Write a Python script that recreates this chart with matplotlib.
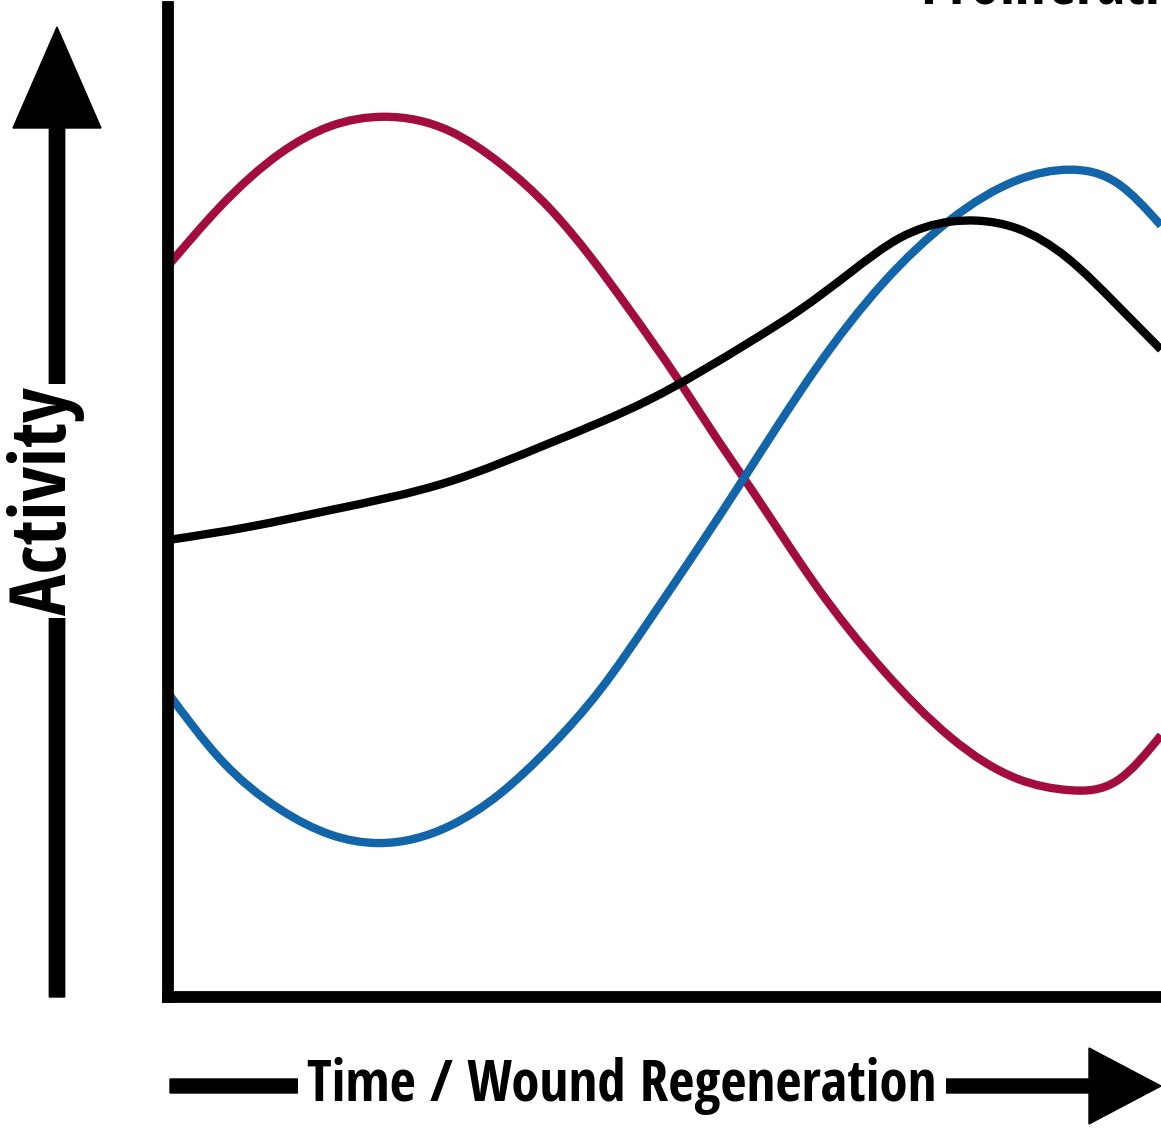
import matplotlib
matplotlib.use("Agg")
import matplotlib.pyplot as plt
import numpy as np
from matplotlib.path import Path
from matplotlib.patches import PathPatch, FancyArrow

# values (time 0..10, activity 0..~10)
time_red = [0, 0.52, 1.13, 1.63, 2.18, 2.84, 3.34, 3.85, 4.25, 4.65, 5.13,
            5.53, 5.86, 6.53, 7.20, 7.88, 8.55, 9.08, 9.56, 10]
red_vals = [7.60, 8.21, 8.77, 9.05, 9.15, 9.00, 8.67, 8.19, 7.70, 7.14, 6.43,
            5.80, 5.30, 4.27, 3.40, 2.70, 2.27, 2.15, 2.25, 2.72]

time_blue = [0, 0.52, 1.13, 1.63, 2.13, 2.84, 3.34, 3.85, 4.35, 4.85, 5.36,
             5.76, 6.53, 7.20, 7.88, 8.55, 9.08, 9.56, 10]
blue_vals = [3.16, 2.48, 1.95, 1.69, 1.60, 1.78, 2.11, 2.60, 3.19, 3.92, 4.70,
             5.33, 6.54, 7.42, 8.08, 8.49, 8.60, 8.46, 8.02]

time_black = [0, 0.83, 1.63, 2.84, 3.85, 4.85, 5.86, 6.36, 6.87, 7.37, 7.88,
              8.15, 8.55, 9.06, 9.56, 10]
black_vals = [4.75, 4.89, 5.06, 5.36, 5.76, 6.21, 6.81, 7.14, 7.53, 7.89, 8.06,
              8.07, 7.99, 7.68, 7.19, 6.73]

RED = "#a30c3e"
BLUE = "#1165a8"

plt.rcParams['font.family'] = ['Open Sans Condensed', 'PT Sans Narrow', 'DejaVu Sans']


def smooth_path(xs, ys):
    # natural cubic spline through the read points, as Bezier segments
    x = np.asarray(xs, float)
    y = np.asarray(ys, float)
    n = len(x)
    h = np.diff(x)
    A = np.zeros((n, n))
    r = np.zeros(n)
    A[0, 0] = A[-1, -1] = 1
    for i in range(1, n - 1):
        A[i, i - 1] = h[i - 1]
        A[i, i] = 2 * (h[i - 1] + h[i])
        A[i, i + 1] = h[i]
        r[i] = 6 * ((y[i + 1] - y[i]) / h[i] - (y[i] - y[i - 1]) / h[i - 1])
    M = np.linalg.solve(A, r)
    d = np.empty(n)
    d[:-1] = (y[1:] - y[:-1]) / h - h * (2 * M[:-1] + M[1:]) / 6
    d[-1] = (y[-1] - y[-2]) / h[-1] + h[-1] * (M[-2] + 2 * M[-1]) / 6
    verts = [(x[0], y[0])]
    codes = [Path.MOVETO]
    for i in range(n - 1):
        t = h[i] / 3.0
        verts += [(x[i] + t, y[i] + d[i] * t),
                  (x[i + 1] - t, y[i + 1] - d[i + 1] * t),
                  (x[i + 1], y[i + 1])]
        codes += [Path.CURVE4] * 3
    return Path(verts, codes)


fig = plt.figure(figsize=(11.61, 11.33), dpi=100)
W, H = 1161, 1133

ax = fig.add_axes([168 / W, (H - 997) / H, (W - 168) / W, (997 - 7) / H])
ax.set_xlim(0, 10)
ax.set_ylim(0, (997 - 7) / 96.2)

for xs, ys, c in [(time_red, red_vals, RED), (time_blue, blue_vals, BLUE),
                  (time_black, black_vals, "black")]:
    ax.add_patch(PathPatch(smooth_path(xs, ys), fill=False, edgecolor=c,
                           lw=6, capstyle="butt", zorder=2))

for s in ["top", "right"]:
    ax.spines[s].set_visible(False)
for s in ["left", "bottom"]:
    ax.spines[s].set_linewidth(8.5)
    ax.spines[s].set_zorder(5)
    ax.spines[s].set_capstyle("projecting")
ax.set_xticks([])
ax.set_yticks([])

# y arrow with its label
fig.patches.append(FancyArrow(
    57 / W, 1 - 997 / H, 0, (997 - 27) / H, width=15 / H,
    head_width=88 / W, head_length=101 / H, length_includes_head=True,
    transform=fig.transFigure, color="black", figure=fig))
fig.text(46 / W, 1 - 501 / H, "Activity", rotation=90, fontsize=56,
         fontweight="bold", ha="center", va="center",
         bbox=dict(facecolor="white", edgecolor="none", pad=2))

# x arrow with its label
fig.patches.append(FancyArrow(
    170 / W, 1 - 1086 / H, (1161 - 170) / W, 0, width=14 / H,
    head_width=76 / H, head_length=72 / W, length_includes_head=True,
    transform=fig.transFigure, color="black", figure=fig))
fig.text(622 / W, 1 - 1101 / H, "Time / Wound Regeneration", fontsize=41,
         fontweight="bold", ha="center", va="baseline",
         bbox=dict(facecolor="white", edgecolor="none", pad=7))

# heading cut off at the top right
fig.text(920 / W, 1 - 3 / H, "Proliferation", fontsize=44,
         fontweight="bold", ha="left", va="baseline")

fig.savefig("out.png", dpi=100)
